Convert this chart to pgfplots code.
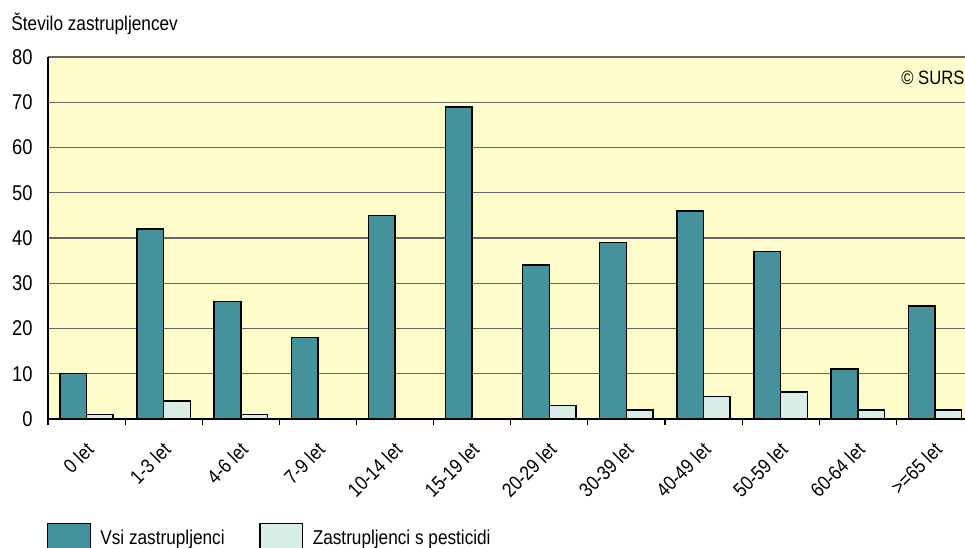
\documentclass[border=0pt]{standalone}
\usepackage{fontspec}
\setmainfont{Liberation Sans}[FakeStretch=0.86]
\usepackage{pgfplots}
\pgfplotsset{compat=1.18}
\definecolor{bgyellow}{HTML}{FFFCCB}
\definecolor{tealbar}{HTML}{45919C}
\definecolor{lightbar}{HTML}{D8EDE7}

\begin{document}
\begin{tikzpicture}
\useasboundingbox (-36pt,-96pt) rectangle (687.75pt,314.25pt);
\begin{axis}[
    at={(0,0)}, anchor=south west,
    scale only axis,
    width=687.75pt, height=271.5pt,
    xmin=-0.5, xmax=11.39,
    ymin=0, ymax=80,
    enlargelimits=false,
    ytick={0,10,...,80},
    xtick={0,...,11},
    xticklabels={0 let,1-3 let,4-6 let,7-9 let,10-14 let,15-19 let,20-29 let,30-39 let,40-49 let,50-59 let,60-64 let,{>=65 let}},
    minor xtick={-0.5,0.5,...,10.5},
    axis x line*=bottom, axis y line*=left,
    axis line style={black, line width=1pt},
    axis background/.style={fill=bgyellow},
    ymajorgrids,
    major grid style={black!60, line width=0.8pt},
    major tick length=0pt,
    minor tick length=4.5pt,
    tick align=outside,
    tick style={black, line width=0.9pt},
    /pgf/number format/assume math mode=true,
    tick label style={font=\fontsize{16}{18}\selectfont},
    yticklabel style={xshift=-8pt},
    xticklabel style={font=\fontsize{15}{17}\selectfont, xshift=5pt, yshift=-18pt, rotate=45, anchor=east},
    ybar=0pt, bar width=20pt,
    legend columns=2,
    legend image code/.code={\draw[#1, line width=1.1pt] (0pt,-10pt) rectangle (32pt,11pt);},
    legend style={at={(0,0)}, anchor=north west, xshift=-1pt, yshift=-77.6pt,
        draw=none, fill=none, inner sep=0pt,
        font=\fontsize{15}{17}\selectfont,
        /tikz/every odd column/.append style={column sep=5pt},
        /tikz/every even column/.append style={column sep=24pt}},
]
\addplot[fill=tealbar, draw=black, line width=1.1pt] coordinates {
    (0,10) (1,42) (2,26) (3,18) (4,45) (5,69) (6,34) (7,39) (8,46) (9,37) (10,11) (11,25)
};
\addplot[fill=lightbar, draw=black, line width=1.1pt] coordinates {
    (0,1) (1,4) (2,1) (6,3) (7,2) (8,5) (9,6) (10,2) (11,2)
};
\legend{Vsi zastrupljenci, Zastrupljenci s pesticidi}
\end{axis}
\node[anchor=base west, inner sep=0pt, font=\fontsize{15}{17}\selectfont] at (-27.6pt,291.6pt) {Število zastrupljencev};
\node[anchor=base east, inner sep=0pt, font=\fontsize{14.5}{16}\selectfont] at (687.5pt,250.9pt) {© SURS};
\end{tikzpicture}
\end{document}
